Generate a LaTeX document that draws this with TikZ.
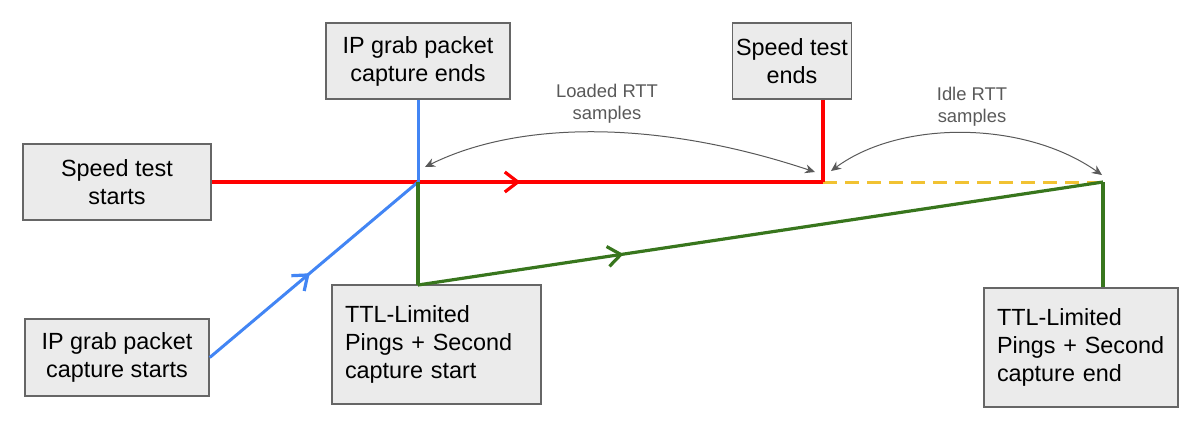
\documentclass[tikz,border=0pt]{standalone}
\usepackage{fontspec}
\setmainfont{Liberation Sans}
\usetikzlibrary{arrows.meta,decorations.markings}
\definecolor{lineRed}{HTML}{FF0000}
\definecolor{lineBlue}{HTML}{4285F4}
\definecolor{lineGreen}{HTML}{38761D}
\definecolor{lineYellow}{HTML}{F1C232}
\definecolor{boxFill}{HTML}{EBEBEB}
\definecolor{boxEdge}{HTML}{666666}
\definecolor{noteGray}{HTML}{595959}
\newcommand\pktfont{\fontsize{11.7}{14}\selectfont}
\newcommand\rttfont{\fontsize{9.2}{11}\selectfont}
\begin{document}
\begin{tikzpicture}[x=0.5pt, y=-0.5pt,
  evbox/.style={draw=boxEdge, line width=0.75pt, fill=boxFill, inner sep=0pt, align=center, font=\pktfont},
  ttlbox/.style={evbox, align=left, inner xsep=6.5pt},
  midtip/.style={postaction={decorate, decoration={markings,
    mark=at position #1 with {\arrow{Straight Barb[length=6.5pt, width=10pt, line width=1.6pt]}}}}},
  redline/.style={lineRed, line width=1.6pt},
  blueline/.style={lineBlue, line width=1.5pt},
  greenline/.style={lineGreen, line width=1.6pt},
  rttarrow/.style={noteGray, line width=0.5pt, {Stealth[length=5pt, width=4.5pt]}-{Stealth[length=5pt, width=4.5pt]}},
  rttnote/.style={noteGray, align=center, font=\rttfont}]
\useasboundingbox (0,0) rectangle (1190,424);

\node[evbox, minimum width=94pt, minimum height=38pt] (sts) at (117,182){Speed test\\starts};
\node[evbox, minimum width=92pt, minimum height=38pt] (ipe) at (418,61){IP grab packet\\capture ends};
\node[evbox, minimum width=59.5pt, minimum height=38pt] (ste) at (792,61){Speed test\\ends};
\node[evbox, minimum width=92pt, minimum height=38.5pt] (ips) at (117,357.5){IP grab packet\\capture starts};
\node[ttlbox, text width=91.5pt, minimum height=59.5pt] (ttla) at (436.5,344.5){TTL-Limited\\Pings + Second\\capture start};
\node[ttlbox, text width=84pt, minimum height=59.5pt] (ttlb) at (1081,347.5){TTL-Limited\\Pings + Second\\capture end};

\coordinate (ja) at (418,182);
\coordinate (jb) at (823,182);
\coordinate (jc) at (1103,182);
\coordinate (ga) at (418,285);

\draw[lineYellow, line width=1.5pt, dash pattern=on 7pt off 4pt](jb) -- (jc);
\draw[redline, midtip=0.505](sts.east) -- (jb);
\draw[redline](jb) -- (jb |- ste.south);
\draw[blueline](ipe.south) -- (ja);
\draw[blueline, midtip=0.48](ips.east) -- (ja);
\draw[greenline](ja) -- (ga);
\draw[greenline, midtip=0.3](ga) -- (jc);
\draw[greenline](jc) -- (jc |- ttlb.north);

\coordinate (la) at (425,167);
\coordinate (lb) at (815,172);
\coordinate (ia) at (831,171);
\coordinate (ib) at (1102,175);
\draw[rttarrow](la) .. controls (520,120) and (659,120) .. (lb);
\draw[rttarrow](ia) .. controls (900,120) and (1024,120) .. (ib);
\node[rttnote] (loaded) at (607,104){Loaded RTT\\samples};
\node[rttnote] (idle) at (972,107){Idle RTT\\samples};

\end{tikzpicture}
\end{document}
